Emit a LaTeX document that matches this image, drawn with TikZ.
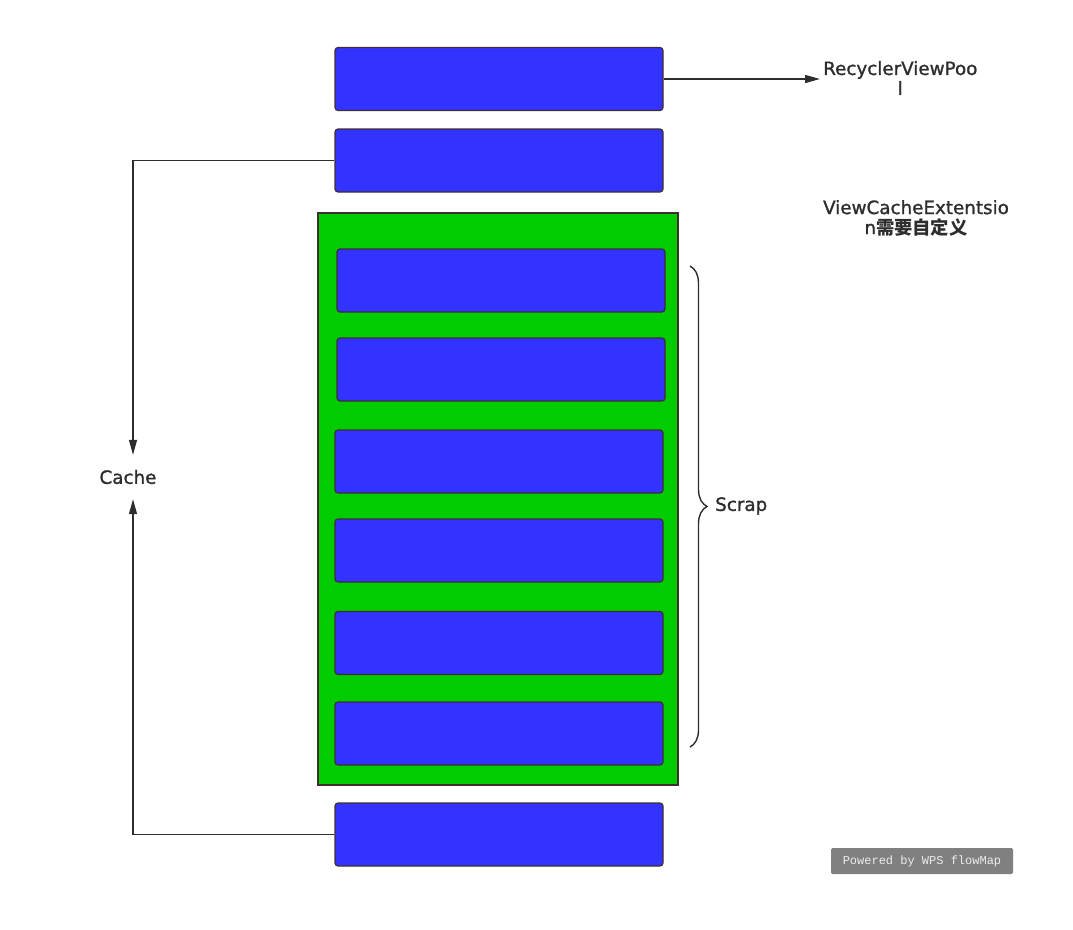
\documentclass[tikz,border=0pt]{standalone}
\usepackage{fontspec}
\setmainfont{DejaVu Sans}
\setmonofont{Liberation Mono}
\newfontfamily\labelfont{DejaVu Sans}[BoldFont={DejaVu Sans}, BoldFeatures={FakeBold=1.2}]
\newfontfamily\cjk{Noto Sans CJK SC}
\usetikzlibrary{arrows.meta, decorations.pathreplacing, positioning}
\definecolor{cellblue}{RGB}{51,51,255}
\definecolor{scrapgreen}{RGB}{0,204,0}
\definecolor{boxline}{RGB}{64,46,46}
\definecolor{connline}{RGB}{45,45,45}
\definecolor{wpsgray}{RGB}{128,128,128}
\tikzset{
    cell/.style={draw=boxline, fill=cellblue, rounded corners=3pt, line width=1.2pt,
        minimum width=328pt, minimum height=63pt, inner sep=0pt},
    scrapgroup/.style={draw=boxline, fill=scrapgreen, line width=1.2pt,
        minimum width=360pt, minimum height=572pt, inner sep=0pt},
    labeltext/.style={text=connline, font=\labelfont\bfseries\fontsize{18.3}{20}\selectfont,
        align=center, inner sep=3pt},
    conn/.style={draw=connline, line width=1.4pt},
    watermark/.style={fill=wpsgray, text=white!85!gray, rounded corners=1.5pt,
        minimum width=182pt, minimum height=26pt, inner sep=0pt,
        font=\ttfamily\fontsize{12}{12}\selectfont}
}

\begin{document}
\begin{tikzpicture}[x=1pt, y=-1pt, >={Triangle[length=15pt,width=8pt]}]
    % Page frame
    \useasboundingbox (0,0) rectangle (1073,929);

    % Outer cells
    \node[cell] (top) at (499,79) {};
    \node[cell] (second) at (499,160.5) {};
    \node[cell] (bottom) at (499,834.5) {};

    % Scrap group and its cells
    \node[scrapgroup] (scrapbox) at (498,499) {};
    \foreach \x/\y [count=\i] in {501/280.5, 501/369.5, 499/461.5, 499/550.5, 499/643, 499/733.5}
        \node[cell] (scrap\i) at (\x,\y) {};

    % Labels
    \node[labeltext, anchor=west] (pool) at (820,78) {RecyclerViewPoo\\l};
    \node[labeltext] (extension) at (916,218) {ViewCacheExtentsio\\n{\cjk\bfseries 需要自定义}};
    \node[labeltext, minimum height=44pt] (cache) at (128,477) {Cache};
    \node[labeltext, anchor=west] (scrap) at (712,506) {Scrap};

    % Connectors
    \draw[conn, ->] (top.east) -- (top.east -| pool.west);
    \draw[conn, ->] (second.west) -| ([xshift=5pt]cache.north);
    \draw[conn, ->] (bottom.west) -| ([xshift=5pt]cache.south);

    % Brace round the scrap cells
    \coordinate (bracetop) at (690,266);
    \coordinate (bracebot) at (690,747);
    \draw[conn, decorate, decoration={brace, amplitude=17pt}] (bracetop) -- (bracebot);

    % Watermark
    \node[watermark] (wps) at (922,861) {Powered by WPS flowMap};
\end{tikzpicture}
\end{document}
